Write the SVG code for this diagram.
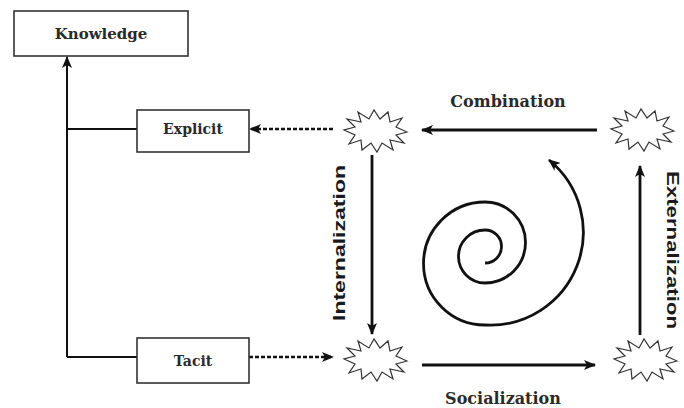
<svg xmlns="http://www.w3.org/2000/svg" xmlns:xlink="http://www.w3.org/1999/xlink" width="684" height="408" viewBox="0 0 684 408">
  <style>
    .box { fill: #fff; stroke: #333; stroke-width: 1.6; }
    .label { font-family: "DejaVu Serif", "Liberation Serif", serif; font-weight: bold; fill: #2a2a2a; text-anchor: middle; }
    .vlabel { font-family: "Liberation Sans", Arial, sans-serif; font-weight: bold; fill: #1a1a1a; text-anchor: middle; font-size: 17px; }
    .line { fill: none; stroke: #111; stroke-width: 2; }
    .arrow { fill: none; stroke: #111; stroke-width: 2.8; marker-end: url(#head); }
    .dashed { fill: none; stroke: #111; stroke-width: 2.6; stroke-dasharray: 4 2; marker-end: url(#head); }
    .burst { fill: #fff; stroke: #333; stroke-width: 1.2; stroke-linejoin: miter; }
  </style>
  <defs>
    <marker id="head" markerUnits="userSpaceOnUse" viewBox="0 0 12 10" refX="11" refY="5" markerWidth="12" markerHeight="10" orient="auto">
      <path d="M0,0 L12,5 L0,10 L3,5 z" fill="#111"/>
    </marker>
    <!-- jagged starburst used for the four transition points -->
    <polygon id="star" class="burst" points="32,1 21,4 29,12 15,9 18,19 7,12 2,21 -4,12 -13,19 -14,9 -26,13 -20,4 -31,-1 -20,-4 -28,-12 -14,-9 -17,-19 -6,-12 -1,-21 5,-12 13,-19 15,-9 27,-13 21,-4"/>
  </defs>

  <!-- connectors -->
  <g id="connectors">
    <path class="line" d="M67,357 L67,57" marker-end="url(#head)"/>
    <path class="line" d="M67,129 L137,129"/>
    <path class="line" d="M67,357 L137,357"/>
    <path class="dashed" d="M333,129 L250,129"/>
    <path class="dashed" d="M249,357 L333,357"/>
    <path class="arrow" d="M597,130 L422,130"/>
    <path class="arrow" d="M422,365 L595,365"/>
    <path class="arrow" d="M372,155 L372,334"/>
    <path class="arrow" d="M640,335 L640,166"/>
    <path class="arrow" d="M485,263 A16.5,16.5 0 0 0 485,230 A26.5,26.5 0 0 0 485,283 A40.5,40.5 0 0 0 485,202 A61.5,61.5 0 0 0 485,325 A93,93 0 0 0 549,160"/>
  </g>

  <!-- knowledge root -->
  <g id="knowledge">
    <rect class="box" x="14" y="11" width="174" height="45"/>
    <text class="label" x="101" y="39" font-size="15">Knowledge</text>
  </g>

  <g id="explicit">
    <rect class="box" x="137" y="110" width="112" height="42"/>
    <text class="label" x="193" y="134" font-size="14">Explicit</text>
  </g>

  <g id="tacit">
    <rect class="box" x="137" y="338" width="112" height="45"/>
    <text class="label" x="193" y="366" font-size="14">Tacit</text>
  </g>

  <!-- transition points -->
  <g id="burst-top-left"><use xlink:href="#star" x="375" y="131"/></g>
  <g id="burst-top-right"><use xlink:href="#star" x="642" y="130"/></g>
  <g id="burst-bottom-left"><use xlink:href="#star" x="375" y="360"/></g>
  <g id="burst-bottom-right"><use xlink:href="#star" x="645" y="360"/></g>

  <!-- process labels -->
  <g id="combination">
    <text class="label" x="508" y="107" font-size="16">Combination</text>
  </g>
  <g id="socialization">
    <text class="label" x="503" y="404" font-size="16">Socialization</text>
  </g>
  <g id="internalization">
    <text class="vlabel" transform="translate(345,243) rotate(-90)" textLength="156" lengthAdjust="spacingAndGlyphs">Internalization</text>
  </g>
  <g id="externalization">
    <text class="vlabel" transform="translate(667,250) rotate(90)" textLength="158" lengthAdjust="spacingAndGlyphs">Externalization</text>
  </g>
</svg>
